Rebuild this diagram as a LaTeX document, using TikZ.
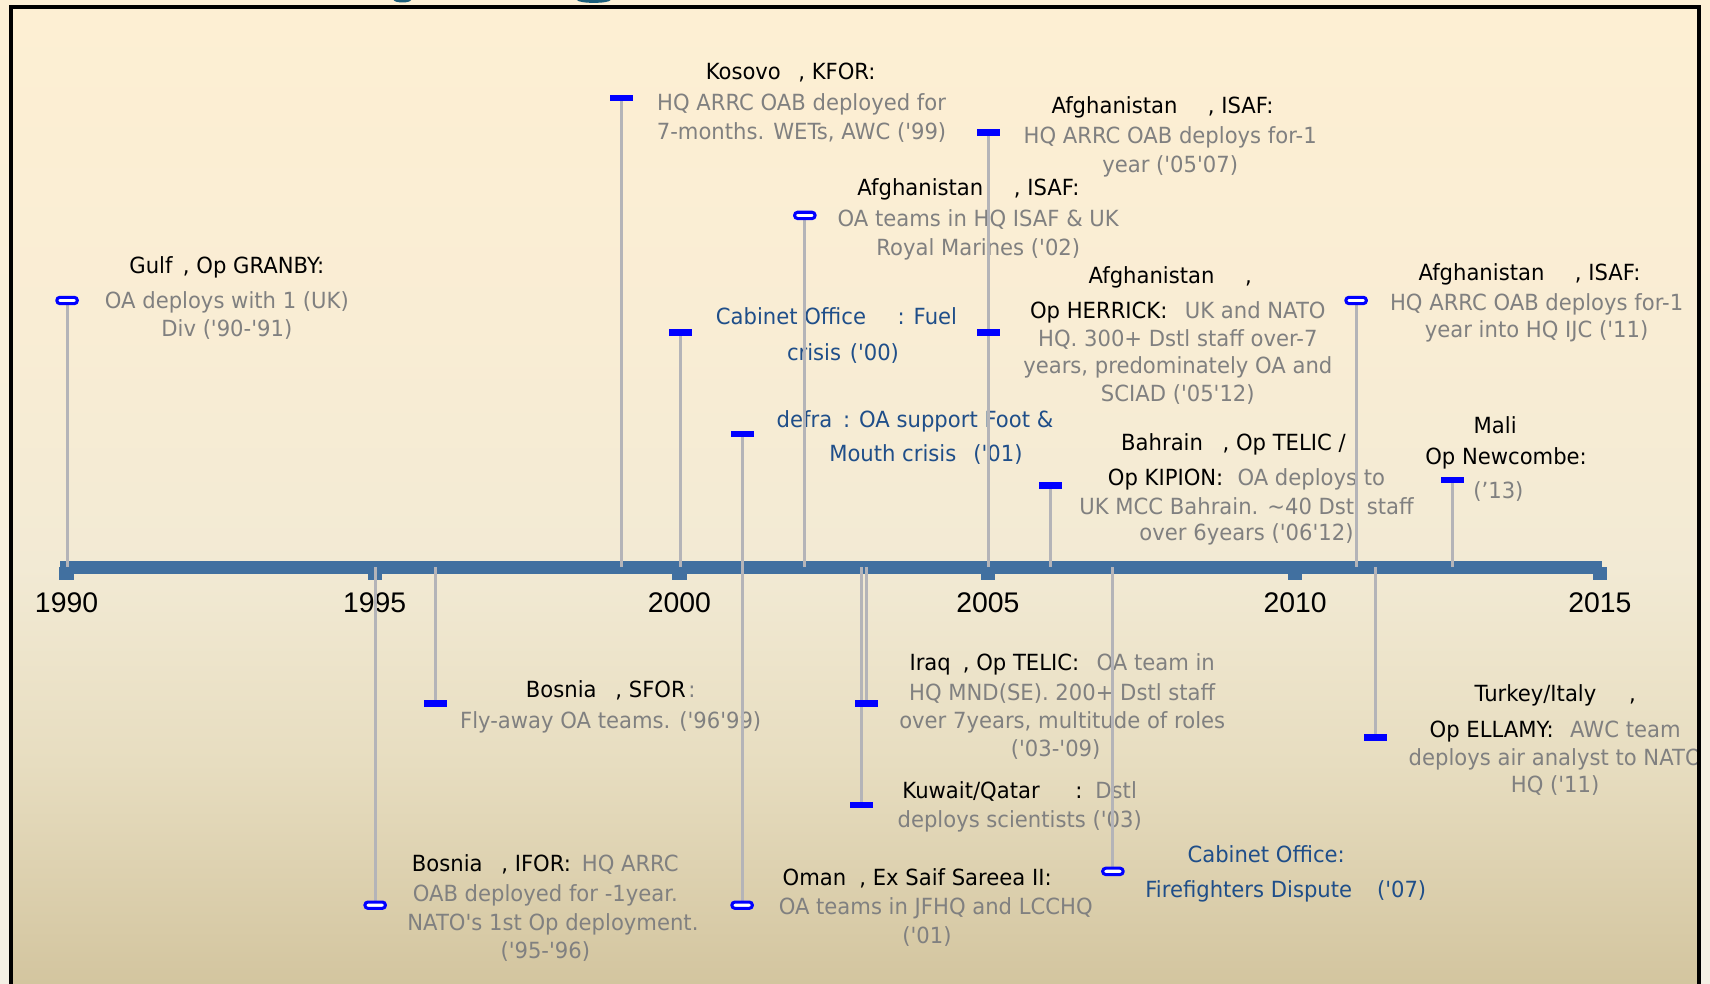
\documentclass[tikz,border=0pt]{standalone}
\usepackage{fontspec}
\newfontfamily\labf{DejaVu Sans}[FakeStretch=0.95]
\newfontfamily\yrf{Liberation Sans}
\definecolor{bgtop}{RGB}{253,239,211}
\definecolor{bgm3}{RGB}{249,237,212}
\definecolor{bgm2}{RGB}{242,234,212}
\definecolor{bgm1}{RGB}{231,221,192}
\definecolor{bgbot}{RGB}{211,197,159}
\definecolor{pgtop}{RGB}{253,240,214}
\definecolor{pgbot}{RGB}{244,240,228}
\definecolor{axisblue}{RGB}{65,112,160}
\definecolor{stemgray}{RGB}{180,180,184}
\definecolor{mkblue}{RGB}{0,0,255}
\definecolor{txtgray}{RGB}{128,128,128}
\definecolor{lblue}{RGB}{31,78,137}
\definecolor{tealart}{RGB}{27,94,123}
\pgfdeclareverticalshading{bgshade}{100bp}{color(0bp)=(bgbot); color(25bp)=(bgbot); color(36.3bp)=(bgm1); color(46.3bp)=(bgm2); color(58.6bp)=(bgm3); color(75bp)=(bgtop); color(100bp)=(bgtop)}
\pgfdeclareverticalshading{pgshade}{100bp}{color(0bp)=(pgbot); color(25bp)=(pgbot); color(75bp)=(pgtop); color(100bp)=(pgtop)}
\newcommand\grt[1]{\textcolor{txtgray}{#1}}
\newcommand\pad[1]{\rule{#1}{0pt}}
\tikzset{
  lbl/.style={font={\labf\fontsize{10.2pt}{13pt}\selectfont}, align=center, inner sep=0pt, anchor=north, text=black},
  bluelbl/.style={lbl, text=lblue},
  stem/.style={draw=stemgray, line width=1.4pt},
  solidmk/.style={rectangle, fill=mkblue, minimum width=10.5pt, minimum height=3pt, inner sep=0pt},
  hollowmk/.style={rectangle, draw=mkblue, fill=white, line width=1.4pt, rounded corners=1.4pt, minimum width=9.4pt, minimum height=2.9pt, inner sep=0pt},
  yearlbl/.style={font={\yrf\fontsize{13pt}{15pt}\selectfont}, inner sep=0pt, text=black},
  tickmk/.style={fill=axisblue}
}
\begin{document}
\begin{tikzpicture}[x=0.5pt,y=-0.5pt]
\useasboundingbox (0,0) rectangle (1568,902);
% page and framed background
\shade[shading=pgshade] (0,0) rectangle (1568,902);
\shade[shading=bgshade] (10,6) rectangle (1558,902);
% clipped fragments at the very top
\fill[tealart] (361,0) .. controls (362,3) and (376,3) .. (377,0) -- cycle;
\fill[tealart] (529,0) .. controls (531,3.5) and (558,3.5) .. (560,0) -- cycle;

\begin{scope}
\clip (12,8) rectangle (1556,902);
% ---------- labels above the axis ----------
\node[lbl] (t1) at (208,235) {Gulf\hspace{4.8pt}, Op GRANBY:\\[3pt]
  \grt{OA deploys with 1 (UK)}\\
  \grt{Div ('90-'91)}};
\node[lbl] (t2) at (735,57) {Kosovo\hspace{8pt}, KFOR:\pad{10pt}\\[1.5pt]
  \grt{HQ ARRC OAB deployed for}\\
  \grt{7-months. WETs, AWC ('99)}};
\node[bluelbl] (t3) at (767,282) {Cabinet Office\hspace{14.5pt}: Fuel\\[3.5pt]
  \pad{6pt}crisis\hspace{4pt}('00)};
\node[bluelbl] (t4) at (839,376) {defra\hspace{5pt}: OA support Foot \&\\[2.5pt]
  \pad{10pt}Mouth crisis\hspace{7.8pt}('01)};
\node[lbl] (t5) at (897,163) {Afghanistan\hspace{14pt}, ISAF:\pad{9pt}\\[1.5pt]
  \grt{OA teams in HQ ISAF \& UK}\\
  \grt{Royal Marines ('02)}};
\node[lbl] (t6) at (1073,88) {Afghanistan\hspace{14pt}, ISAF:\pad{7pt}\\[1pt]
  \grt{HQ ARRC OAB deploys for-1}\\
  \grt{year ('05'07)}};
\node[lbl] (t7) at (1080,244) {Afghanistan\hspace{14pt},\pad{7pt}\\[3pt]
  Op HERRICK:\hspace{8pt}\grt{UK and NATO}\\
  \grt{HQ. 300+ Dstl staff over-7}\\[-0.5pt]
  \grt{years, predominately OA and}\\[-0.5pt]
  \grt{SCIAD ('05'12)}};
\node[lbl] (t8) at (1143,397) {Bahrain\hspace{9pt}, Op TELIC /\pad{12pt}\\[3pt]
  Op KIPION:\hspace{6.5pt}\grt{OA deploys to}\\[0.5pt]
  \grt{UK MCC Bahrain. \textasciitilde40 Dstl staff}\\[-1pt]
  \grt{over 6years ('06'12)}};
\node[lbl] (t9) at (1409,241) {Afghanistan\hspace{14pt}, ISAF:\pad{6.5pt}\\[1pt]
  \grt{HQ ARRC OAB deploys for-1}\\[-0.5pt]
  \grt{year into HQ IJC ('11)}};
\node[lbl] (t10) at (1381,382) {Mali\pad{10pt}\\[1pt]
  Op Newcombe:\\[2.5pt]
  \grt{(’13)}\pad{7pt}};
% ---------- labels below the axis ----------
\node[lbl] (t11) at (500,783) {Bosnia\hspace{8.6pt}, IFOR:\hspace{5pt}\grt{HQ ARRC}\\[1pt]
  \grt{OAB deployed for -1year.}\\
  \pad{7pt}\grt{NATO's 1st Op deployment.}\\
  \grt{('95-'96)}};
\node[lbl] (t12) at (560,624) {Bosnia\hspace{8.6pt}, SFOR\hspace{1.2pt}\grt{:}\\[1pt]
  \grt{Fly-away OA teams. ('96'99)}};
\node[lbl] (t13) at (858,796) {Oman\hspace{6pt}, Ex Saif Sareea II:\pad{17pt}\\[0.5pt]
  \grt{OA teams in JFHQ and LCCHQ}\\
  \grt{('01)}\pad{8pt}};
\node[lbl] (t14) at (974,599) {Iraq\hspace{5.5pt}, Op TELIC:\hspace{8pt}\grt{OA team in}\\[0.5pt]
  \grt{HQ MND(SE). 200+ Dstl staff}\\
  \grt{over 7years, multitude of roles}\\
  \grt{('03-'09)}\pad{6pt}};
\node[lbl] (t15) at (935,716) {Kuwait/Qatar\hspace{16.3pt}:\hspace{6pt}\grt{Dstl}\\[0.5pt]
  \grt{deploys scientists ('03)}};
\node[bluelbl] (t16) at (1179,775) {Cabinet Office:\pad{18pt}\\[3pt]
  Firefighters Dispute\hspace{11.4pt}('07)};
\node[lbl] (t17) at (1426,627) {Turkey/Italy\hspace{15pt},\\[3.5pt]
  Op ELLAMY:\hspace{7.5pt}\grt{AWC team}\\
  \grt{deploys air analyst to NATO}\\[-0.5pt]
  \grt{HQ ('11)}};
% ---------- year labels ----------
\node[yearlbl] (y1990) at (61,553) {1990};
\node[yearlbl] (y1995) at (343.5,553) {1995};
\node[yearlbl] (y2000) at (623,553) {2000};
\node[yearlbl] (y2005) at (905.8,553) {2005};
\node[yearlbl] (y2010) at (1187.6,553) {2010};
\node[yearlbl] (y2015) at (1467,553) {2015};
\end{scope}

% ---------- axis ----------
\coordinate (axisL) at (55,520);
\coordinate (axisR) at (1469,520);
\fill[axisblue] (55,514) rectangle (1469,526);
\foreach \tx in {61,343.5,623,905.8,1187.6,1467}{
  \fill[tickmk] (\tx-6.5,520) rectangle (\tx+6.5,532);
}

% ---------- event marker positions ----------
\coordinate (p1) at (61.5,275.5);
\coordinate (p2) at (569.5,90);
\coordinate (p3) at (624,305);
\coordinate (p4) at (680.5,398);
\coordinate (p5) at (738,197.5);
\coordinate (p6) at (906.5,121.5);
\coordinate (p7) at (906.5,305);
\coordinate (p8) at (963.5,445);
\coordinate (p9) at (1243.5,275.5);
\coordinate (p10) at (1331.5,440);
\coordinate (p11) at (344,830);
\coordinate (p12) at (399,645);
\coordinate (p13) at (680.5,830);
\coordinate (p14) at (794.5,645);
\coordinate (p15) at (790,738);
\coordinate (p16) at (1020.5,799);
\coordinate (p17) at (1261.5,676);

% ---------- stems ----------
\foreach \p in {p1,p2,p3,p4,p5,p6,p7,p8,p9,p10,p11,p12,p13,p14,p15,p16,p17}{
  \draw[stem] (\p) -- (\p |- axisL);
}

% ---------- markers ----------
\node[hollowmk] (m1) at (p1) {};
\node[solidmk] (m2) at (p2) {};
\node[solidmk] (m3) at (p3) {};
\node[solidmk] (m4) at (p4) {};
\node[hollowmk] (m5) at (p5) {};
\node[solidmk] (m6) at (p6) {};
\node[solidmk] (m7) at (p7) {};
\node[solidmk] (m8) at (p8) {};
\node[hollowmk] (m9) at (p9) {};
\node[solidmk] (m10) at (p10) {};
\node[hollowmk] (m11) at (p11) {};
\node[solidmk] (m12) at (p12) {};
\node[hollowmk] (m13) at (p13) {};
\node[solidmk] (m14) at (p14) {};
\node[solidmk] (m15) at (p15) {};
\node[hollowmk] (m16) at (p16) {};
\node[solidmk] (m17) at (p17) {};

% ---------- frame ----------
\draw[line width=2pt, black, line join=miter] (10,912) -- (10,6.5) -- (1558,6.5) -- (1558,912);
\end{tikzpicture}
\end{document}
